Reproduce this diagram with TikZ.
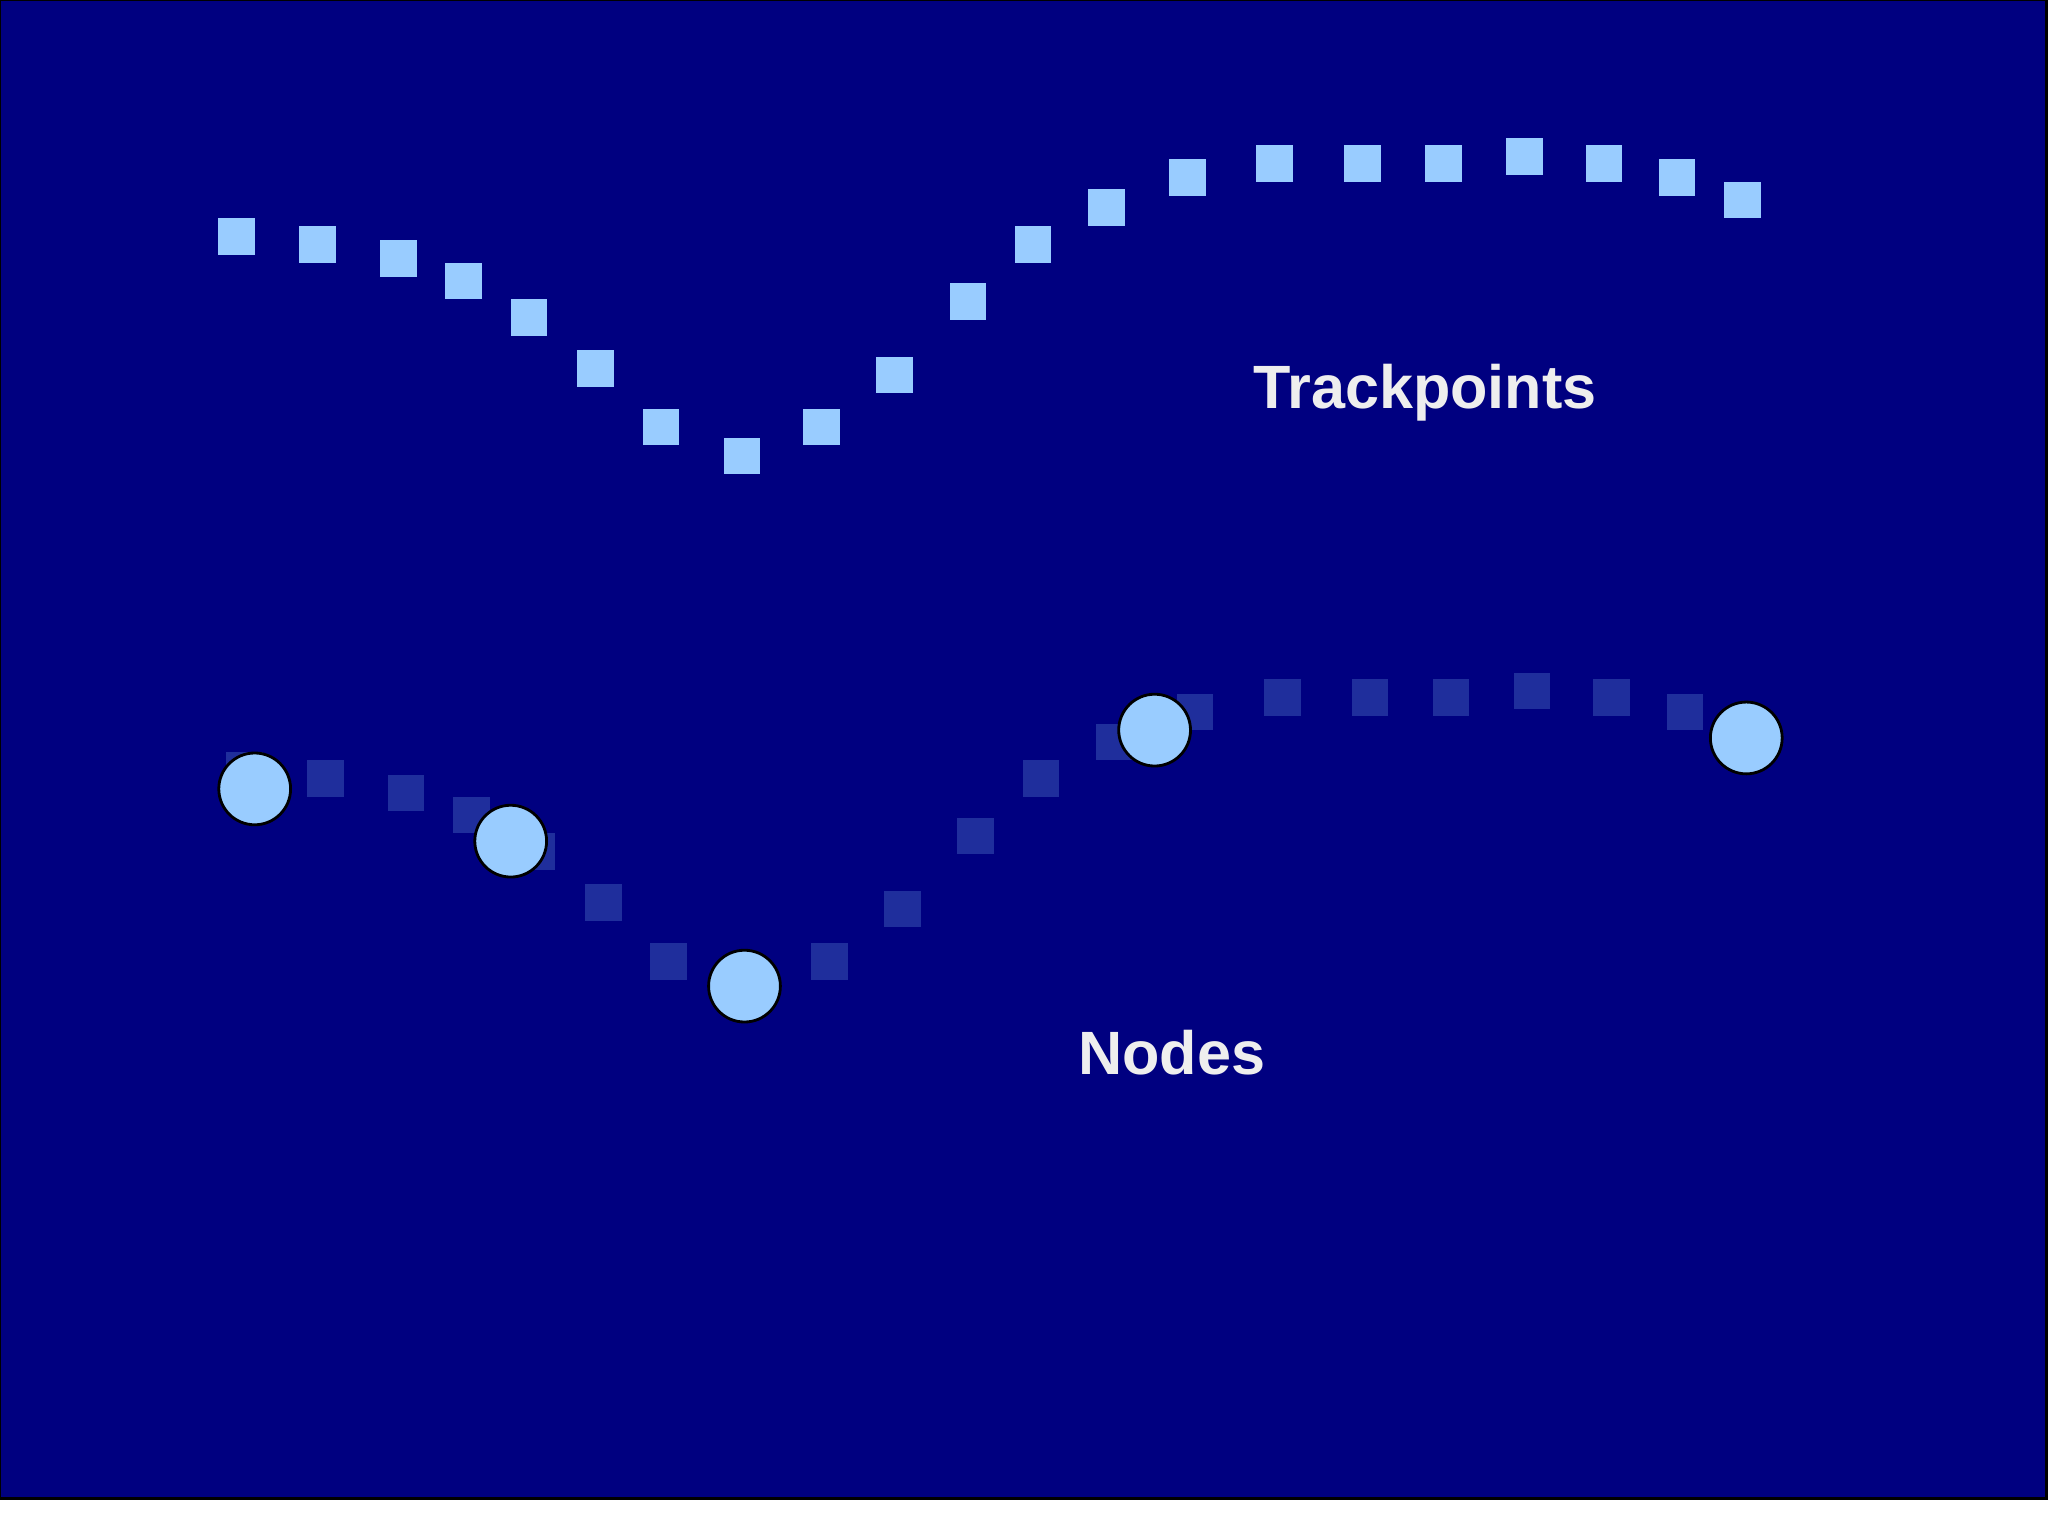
\documentclass[tikz,border=0pt]{standalone}
\usepackage{fontspec}
\setmainfont{Liberation Sans}
\definecolor{bg}{HTML}{000080}
\definecolor{tp}{HTML}{99CCFF}
\definecolor{faded}{HTML}{1F2E9C}
\definecolor{txt}{HTML}{EEEEEE}
\begin{document}
\begin{tikzpicture}[x=0.01306cm,y=-0.01306cm,
  tpbox/.style={fill=tp,draw=none,minimum size=0.3657cm,inner sep=0pt},
  fadebox/.style={fill=faded,draw=none,minimum size=0.3657cm,inner sep=0pt},
  nodecirc/.style={circle,fill=tp,draw=black,line width=0.8pt,minimum size=0.718cm,inner sep=0pt},
  lbl/.style={text=txt,font=\bfseries\fontsize{17.4pt}{20pt}\selectfont}]
\useasboundingbox (0,0) rectangle (1568,1175.3);
\fill[bg,draw=black,line width=0.8pt] (0,0) rectangle (1567,1147);
\foreach \x/\y [count=\i] in {181/181,243/187,305/198,355/215,405/243,456/282,506/327,568/349,629/327,685/287,741/231,791/187,847/159,909/136,976/125,1043/125,1105/125,1167/120,1228/125,1284/136,1334/153}{
  \node[tpbox] (t\i) at (\x,\y) {};
  \node[fadebox] (f\i) at (\x+6,\y+409) {};
}
\node[nodecirc] (n1) at (195,604) {};
\node[nodecirc] (n2) at (391,644) {};
\node[nodecirc] (n3) at (570,755) {};
\node[nodecirc] (n4) at (884,559) {};
\node[nodecirc] (n5) at (1337,565) {};
\node[lbl] (lt) at (1091,301) {Trackpoints};
\node[lbl] (ln) at (897,806) {Nodes};
\end{tikzpicture}
\end{document}
